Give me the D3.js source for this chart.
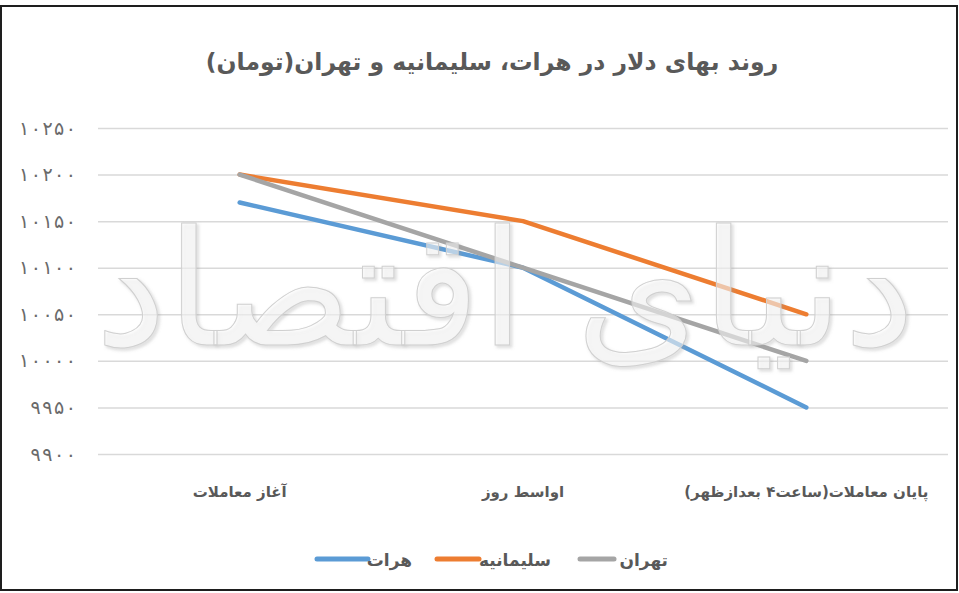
<!DOCTYPE html>
<html><head><meta charset="utf-8">
<script src="https://cdn.jsdelivr.net/npm/d3@7/dist/d3.min.js"></script>
<style>
html,body{margin:0;padding:0;background:#fff;}
svg{display:block;}
text{font-family:"DejaVu Sans","Noto Sans",sans-serif;}
</style></head>
<body>
<svg id="chart" width="959" height="593"></svg>
<script>
const title = "روند بهای دلار در هرات، سلیمانیه و تهران(تومان)";
const categories = ["آغاز معاملات", "اواسط روز", "پایان معاملات(ساعت۴ بعدازظهر)"];
const seriesNames = ["هرات", "سلیمانیه", "تهران"];
const herat = [10170, 10100, 9950];
const sulaymaniyah = [10200, 10150, 10050];
const tehran = [10200, 10100, 10000];
const yTicks = [9900, 9950, 10000, 10050, 10100, 10150, 10200, 10250];
const colors = ["#5b9bd5", "#ed7d31", "#a5a5a5"];
const watermark = "دنیای اقتصاد";

const series = [herat, sulaymaniyah, tehran];
const svg = d3.select("#chart");
const W = 959, H = 593;
const m = {left: 98, right: 11, top: 128, bottom: 139};

const toFa = s => String(s).replace(/[0-9]/g, d => "۰۱۲۳۴۵۶۷۸۹"[+d]);

const x = d3.scaleBand().domain(categories).range([m.left, W - m.right]);
const y = d3.scaleLinear().domain([9900, 10250]).range([H - m.bottom, m.top]);

// frame
svg.append("rect").attr("x", 1).attr("y", 6).attr("width", 956).attr("height", 584)
  .attr("fill", "#fff").attr("stroke", "#1e1e1e").attr("stroke-width", 2);

// title
svg.append("text").attr("x", 492).attr("y", 70).attr("text-anchor", "middle")
  .attr("direction", "rtl")
  .attr("font-size", 23.5).attr("font-weight", "bold").attr("fill", "#595959").text(title);

// gridlines + y axis
const yAxis = d3.axisLeft(y).tickValues(yTicks).tickSize(-(W - m.left - m.right)).tickFormat(d => toFa(d)).tickPadding(22);
const gy = svg.append("g").attr("transform", `translate(${m.left},0)`).call(yAxis);
gy.select(".domain").remove();
gy.selectAll(".tick line").attr("stroke", "#d9d9d9").attr("stroke-width", 1.5);
gy.selectAll(".tick text").attr("fill", "#6a6a6a").attr("font-size", 19).attr("font-family", "DejaVu Sans")
  .attr("textLength", d => String(d).length * 11.4).attr("lengthAdjust", "spacing");

// x axis labels
const xAxis = d3.axisBottom(x).tickSize(0).tickPadding(32);
const gx = svg.append("g").attr("transform", `translate(0,${H - m.bottom})`).call(xAxis);
gx.select(".domain").remove();
gx.selectAll(".tick text").attr("fill", "#595959").attr("font-size", 15).attr("font-weight", "bold").attr("direction", "rtl");

// lines
const line = d3.line().x((d, i) => x(categories[i]) + x.bandwidth() / 2).y(d => y(d));
series.forEach((s, k) => {
  svg.append("path").datum(s).attr("d", line).attr("fill", "none")
    .attr("stroke", colors[k]).attr("stroke-width", 4.5).attr("stroke-linecap", "round").attr("stroke-linejoin", "round");
});

// watermark (sized to span the plot width)
const defs = svg.append("defs");
const f = defs.append("filter").attr("id", "sh").attr("x", "-10%").attr("y", "-10%").attr("width", "120%").attr("height", "120%");
f.append("feDropShadow").attr("dx", 2).attr("dy", 2).attr("stdDeviation", 1.5).attr("flood-color", "#999").attr("flood-opacity", 0.5);
const wm = svg.append("text").attr("x", 505).attr("y", 345).attr("text-anchor", "middle").attr("direction", "rtl")
  .attr("font-size", 100)
  .attr("fill", "#fff").attr("fill-opacity", 0.5).attr("stroke", "#d0d0d0").attr("stroke-width", 1)
  .attr("filter", "url(#sh)").text(watermark);
const wmW = wm.node().getComputedTextLength();
wm.attr("font-size", Math.min(180, 100 * 820 / wmW));

// legend (RTL order from right)
const legendItems = [
  {name: seriesNames[2], color: colors[2], tx: 668, lx1: 580, lx2: 614},
  {name: seriesNames[1], color: colors[1], tx: 551, lx1: 437, lx2: 479},
  {name: seriesNames[0], color: colors[0], tx: 412, lx1: 317, lx2: 368}
];
const lg = svg.append("g");
legendItems.forEach(it => {
  lg.append("line").attr("x1", it.lx1).attr("x2", it.lx2).attr("y1", 559).attr("y2", 559)
    .attr("stroke", it.color).attr("stroke-width", 5).attr("stroke-linecap", "round");
  lg.append("text").attr("x", it.tx).attr("y", 566).attr("text-anchor", "end")
    .attr("font-size", 17).attr("font-weight", "bold").attr("fill", "#595959").text(it.name);
});
</script>
</body></html>
